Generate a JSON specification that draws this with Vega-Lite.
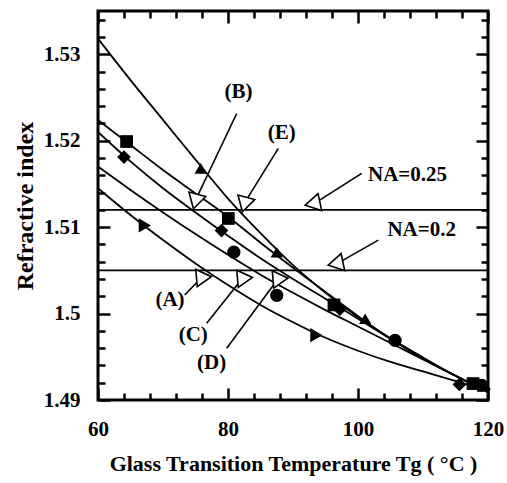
{
  "$schema": "https://vega.github.io/schema/vega-lite/v6.json",
  "width": 390,
  "height": 389,
  "autosize": "none",
  "padding": {"left": 98, "top": 11, "right": 19, "bottom": 83},
  "background": "white",
  "config": {
    "view": {"stroke": "black", "strokeWidth": 3},
    "font": "Liberation Serif",
    "axis": {"grid": false, "domain": false, "ticks": true, "tickColor": "#000000", "tickWidth": 2.5, "labelColor": "black", "titleColor": "black", "labelFont": "Liberation Serif", "titleFont": "Liberation Serif", "labelFontWeight": "bold", "titleFontWeight": "bold", "labelFontSize": 21, "titleFontSize": 22, "labelFlush": false, "labelOverlap": false}
  },
  "datasets": {
    "curves": [
      {"s": "A", "x": 60, "y": 1.5145}, {"s": "A", "x": 65, "y": 1.5114}, {"s": "A", "x": 70, "y": 1.5085}, {"s": "A", "x": 75, "y": 1.5058}, {"s": "A", "x": 80, "y": 1.5033}, {"s": "A", "x": 85, "y": 1.5010}, {"s": "A", "x": 90, "y": 1.4990}, {"s": "A", "x": 95, "y": 1.4972}, {"s": "A", "x": 100, "y": 1.4957}, {"s": "A", "x": 105, "y": 1.4944}, {"s": "A", "x": 110, "y": 1.4933}, {"s": "A", "x": 115, "y": 1.4922}, {"s": "A", "x": 120, "y": 1.4910},
      {"s": "B", "x": 60, "y": 1.5210}, {"s": "B", "x": 65, "y": 1.5176}, {"s": "B", "x": 70, "y": 1.5145}, {"s": "B", "x": 75, "y": 1.5117}, {"s": "B", "x": 80, "y": 1.5090}, {"s": "B", "x": 85, "y": 1.5064}, {"s": "B", "x": 90, "y": 1.5040}, {"s": "B", "x": 95, "y": 1.5017}, {"s": "B", "x": 100, "y": 1.4994}, {"s": "B", "x": 105, "y": 1.4971}, {"s": "B", "x": 110, "y": 1.4949}, {"s": "B", "x": 115, "y": 1.4928}, {"s": "B", "x": 120, "y": 1.4909},
      {"s": "C", "x": 60, "y": 1.5170}, {"s": "C", "x": 65, "y": 1.5143}, {"s": "C", "x": 70, "y": 1.5117}, {"s": "C", "x": 75, "y": 1.5092}, {"s": "C", "x": 80, "y": 1.5068}, {"s": "C", "x": 85, "y": 1.5045}, {"s": "C", "x": 90, "y": 1.5024}, {"s": "C", "x": 95, "y": 1.5004}, {"s": "C", "x": 100, "y": 1.4985}, {"s": "C", "x": 105, "y": 1.4966}, {"s": "C", "x": 110, "y": 1.4947}, {"s": "C", "x": 115, "y": 1.4928}, {"s": "C", "x": 120, "y": 1.4910},
      {"s": "D", "x": 60, "y": 1.5224}, {"s": "D", "x": 65, "y": 1.5195}, {"s": "D", "x": 70, "y": 1.5166}, {"s": "D", "x": 75, "y": 1.5139}, {"s": "D", "x": 80, "y": 1.5112}, {"s": "D", "x": 85, "y": 1.5082}, {"s": "D", "x": 90, "y": 1.5053}, {"s": "D", "x": 95, "y": 1.5025}, {"s": "D", "x": 100, "y": 1.4997}, {"s": "D", "x": 105, "y": 1.4971}, {"s": "D", "x": 110, "y": 1.4948}, {"s": "D", "x": 115, "y": 1.4928}, {"s": "D", "x": 120, "y": 1.4909},
      {"s": "E", "x": 60, "y": 1.5318}, {"s": "E", "x": 65, "y": 1.5270}, {"s": "E", "x": 70, "y": 1.5224}, {"s": "E", "x": 75, "y": 1.5178}, {"s": "E", "x": 80, "y": 1.5133}, {"s": "E", "x": 85, "y": 1.5093}, {"s": "E", "x": 90, "y": 1.5056}, {"s": "E", "x": 95, "y": 1.5024}, {"s": "E", "x": 100, "y": 1.4996}, {"s": "E", "x": 105, "y": 1.4971}, {"s": "E", "x": 110, "y": 1.4949}, {"s": "E", "x": 115, "y": 1.4928}, {"s": "E", "x": 120, "y": 1.4909}
    ],
    "markers": [
      {"s": "A", "x": 67.2, "y": 1.5102}, {"s": "A", "x": 93.6, "y": 1.4975}, {"s": "A", "x": 119.3, "y": 1.4917},
      {"s": "B", "x": 64.0, "y": 1.5181}, {"s": "B", "x": 79.0, "y": 1.5096}, {"s": "B", "x": 97.2, "y": 1.5005}, {"s": "B", "x": 115.6, "y": 1.4918},
      {"s": "C", "x": 80.9, "y": 1.5071}, {"s": "C", "x": 87.5, "y": 1.5021}, {"s": "C", "x": 105.7, "y": 1.4969}, {"s": "C", "x": 119.0, "y": 1.4917},
      {"s": "D", "x": 64.4, "y": 1.5199}, {"s": "D", "x": 80.05, "y": 1.5110}, {"s": "D", "x": 96.3, "y": 1.5010}, {"s": "D", "x": 117.7, "y": 1.4919},
      {"s": "E", "x": 75.8, "y": 1.5168}, {"s": "E", "x": 87.5, "y": 1.5071}, {"s": "E", "x": 101.1, "y": 1.4994}, {"s": "E", "x": 119.5, "y": 1.4918}
    ],
    "na": [{"y": 1.512}, {"y": 1.505}],
    "arrows": [
      {"id": "A", "text": "(A)", "x": 73.34, "y": 1.50214, "x2": 75.92, "y2": 1.50416, "tx": 71.08, "ty": 1.50156},
      {"id": "B", "text": "(B)", "x": 81.34, "y": 1.52314, "x2": 75.08, "y2": 1.51324, "tx": 81.6, "ty": 1.52564},
      {"id": "C", "text": "(C)", "x": 76.72, "y": 1.49887, "x2": 82.23, "y2": 1.50407, "tx": 74.66, "ty": 1.49751},
      {"id": "D", "text": "(D)", "x": 79.8, "y": 1.49598, "x2": 87.69, "y2": 1.50399, "tx": 77.49, "ty": 1.49424},
      {"id": "E", "text": "(E)", "x": 87.74, "y": 1.5191, "x2": 82.62, "y2": 1.51289, "tx": 88.26, "ty": 1.52083},
      {"id": "N25", "text": "NA=0.25", "x": 100.57, "y": 1.51621, "x2": 93.38, "y2": 1.51277, "tx": 107.62, "ty": 1.51601},
      {"id": "N20", "text": "NA=0.2", "x": 103.12, "y": 1.5085, "x2": 96.92, "y2": 1.50584, "tx": 109.8, "ty": 1.50965}
    ]
  },
  "layer": [
    {
      "data": {"name": "markers"},
      "mark": {"type": "point", "filled": true, "color": "black", "opacity": 1},
      "encoding": {
        "x": {"field": "x", "type": "quantitative", "scale": {"domain": [60, 120], "nice": false, "zero": false},
          "axis": {"orient": "bottom", "values": [60, 80, 100, 120], "offset": -12, "tickSize": 12, "labelPadding": 18, "title": "Glass Transition Temperature Tg ( °C )", "titlePadding": 14}},
        "y": {"field": "y", "type": "quantitative", "scale": {"domain": [1.49, 1.535], "nice": false, "zero": false},
          "axis": {"orient": "left", "values": [1.49, 1.5, 1.51, 1.52, 1.53], "labelExpr": "datum.value == 1.5 ? '1.5' : format(datum.value, '.2f')", "tickSize": -12, "labelPadding": 30, "title": "Refractive index", "titleFontSize": 24, "titlePadding": 6}},
        "shape": {"field": "s", "type": "nominal", "scale": {"domain": ["A", "B", "C", "D", "E"], "range": ["triangle-right", "diamond", "circle", "square", "triangle-up"]}, "legend": null},
        "size": {"field": "s", "type": "nominal", "scale": {"domain": ["A", "B", "C", "D", "E"], "range": [200, 150, 140, 170, 210]}, "legend": null}
      }
    },
    {
      "data": {"name": "na"},
      "mark": {"type": "rule", "strokeWidth": 1.8, "color": "black"},
      "encoding": {
        "y": {"field": "y", "type": "quantitative", "scale": {"domain": [1.49, 1.535], "nice": false, "zero": false},
          "axis": {"orient": "right", "values": [1.49, 1.5, 1.51, 1.52, 1.53], "tickSize": -12, "labels": false, "title": null}}
      }
    },
    {
      "data": {"name": "curves"},
      "mark": {"type": "line", "interpolate": "monotone", "strokeWidth": 1.8, "color": "black"},
      "encoding": {
        "x": {"field": "x", "type": "quantitative", "scale": {"domain": [60, 120], "nice": false, "zero": false},
          "axis": {"orient": "bottom", "values": [64, 68, 72, 76, 84, 88, 92, 96, 104, 108, 112, 116], "offset": -7, "tickSize": 7, "labels": false, "title": null}},
        "y": {"field": "y", "type": "quantitative", "scale": {"domain": [1.49, 1.535], "nice": false, "zero": false},
          "axis": {"orient": "left", "values": [1.492, 1.494, 1.496, 1.498, 1.502, 1.504, 1.506, 1.508, 1.512, 1.514, 1.516, 1.518, 1.522, 1.524, 1.526, 1.528, 1.532, 1.534], "tickSize": -7, "labels": false, "title": null}},
        "detail": {"field": "s"}
      }
    },
    {
      "data": {"name": "arrows"},
      "mark": {"type": "rule", "strokeWidth": 1.6, "color": "black"},
      "encoding": {
        "x": {"field": "x", "type": "quantitative", "scale": {"domain": [60, 120], "nice": false, "zero": false},
          "axis": {"orient": "top", "values": [60, 80, 100, 120], "tickSize": -12, "labels": false, "title": null}},
        "y": {"field": "y", "type": "quantitative", "scale": {"domain": [1.49, 1.535], "nice": false, "zero": false},
          "axis": {"orient": "right", "values": [1.492, 1.494, 1.496, 1.498, 1.502, 1.504, 1.506, 1.508, 1.512, 1.514, 1.516, 1.518, 1.522, 1.524, 1.526, 1.528, 1.532, 1.534], "tickSize": -7, "labels": false, "title": null}},
        "x2": {"field": "x2"},
        "y2": {"field": "y2"}
      }
    },
    {
      "data": {"name": "arrows"},
      "transform": [{"filter": {"field": "id", "oneOf": ["B", "E"]}}],
      "mark": {"type": "point", "shape": "triangle", "angle": 75, "size": 300, "filled": false, "fill": "white", "fillOpacity": 1, "stroke": "black", "strokeWidth": 1.6, "opacity": 1},
      "encoding": {
        "x": {"field": "x2", "type": "quantitative", "scale": {"domain": [60, 120], "nice": false, "zero": false},
          "axis": {"orient": "top", "values": [64, 68, 72, 76, 84, 88, 92, 96, 104, 108, 112, 116], "tickSize": -7, "labels": false, "title": null}},
        "y": {"field": "y2", "type": "quantitative", "scale": {"domain": [1.49, 1.535], "nice": false, "zero": false}, "axis": null}
      }
    },
    {
      "data": {"name": "arrows"},
      "transform": [{"filter": {"field": "id", "oneOf": ["N25", "N20"]}}],
      "mark": {"type": "point", "shape": "triangle", "angle": 18, "size": 300, "filled": false, "fill": "white", "fillOpacity": 1, "stroke": "black", "strokeWidth": 1.6, "opacity": 1},
      "encoding": {
        "x": {"field": "x2", "type": "quantitative", "scale": {"domain": [60, 120], "nice": false, "zero": false}, "axis": null},
        "y": {"field": "y2", "type": "quantitative", "scale": {"domain": [1.49, 1.535], "nice": false, "zero": false}, "axis": null}
      }
    },
    {
      "data": {"name": "arrows"},
      "transform": [{"filter": {"field": "id", "oneOf": ["A", "C", "D"]}}],
      "mark": {"type": "point", "shape": "triangle", "angle": 205, "size": 300, "filled": false, "fill": "white", "fillOpacity": 1, "stroke": "black", "strokeWidth": 1.6, "opacity": 1},
      "encoding": {
        "x": {"field": "x2", "type": "quantitative", "scale": {"domain": [60, 120], "nice": false, "zero": false}, "axis": null},
        "y": {"field": "y2", "type": "quantitative", "scale": {"domain": [1.49, 1.535], "nice": false, "zero": false}, "axis": null}
      }
    },
    {
      "data": {"name": "arrows"},
      "mark": {"type": "text", "font": "Liberation Serif", "fontWeight": "bold", "fontSize": 21, "color": "black", "align": "center", "baseline": "middle"},
      "encoding": {
        "x": {"field": "tx", "type": "quantitative", "scale": {"domain": [60, 120], "nice": false, "zero": false}, "axis": null},
        "y": {"field": "ty", "type": "quantitative", "scale": {"domain": [1.49, 1.535], "nice": false, "zero": false}, "axis": null},
        "text": {"field": "text"}
      }
    }
  ],
  "resolve": {"axis": {"x": "independent", "y": "independent"}}
}
